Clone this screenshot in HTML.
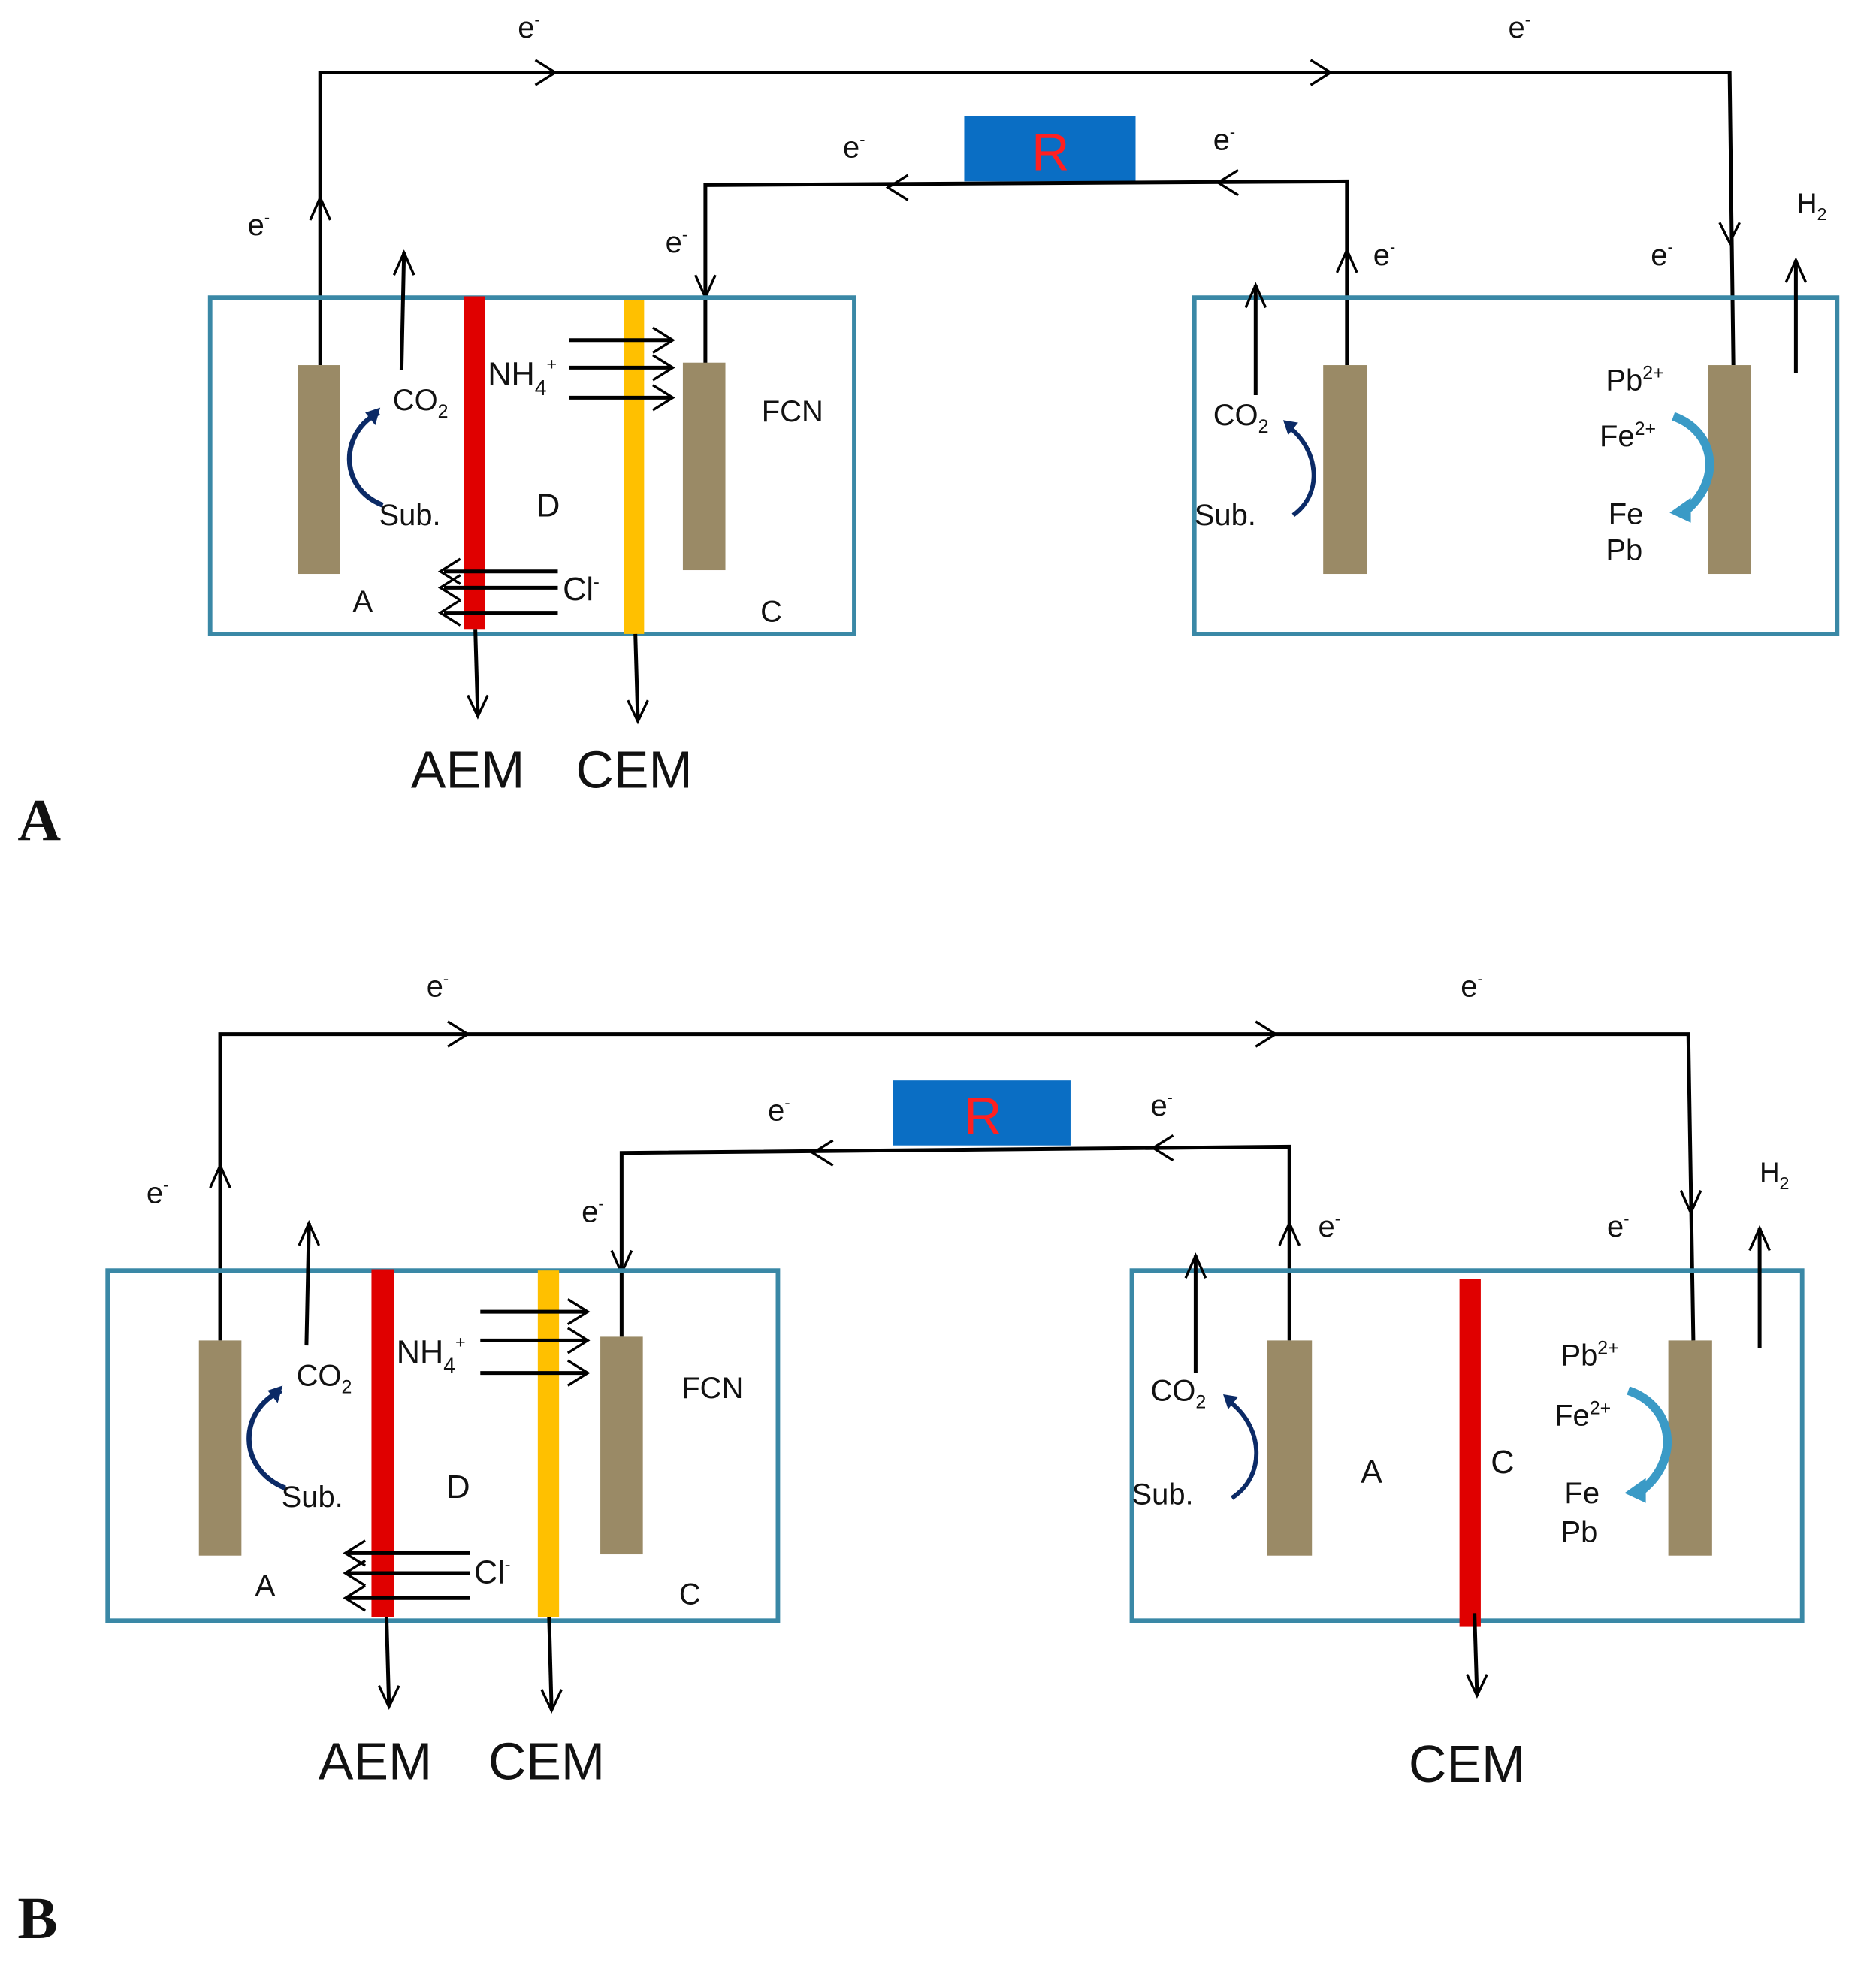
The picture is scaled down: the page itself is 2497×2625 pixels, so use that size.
<!DOCTYPE html>
<html><head><meta charset="utf-8"><style>
html,body{margin:0;padding:0;background:#fff}
svg{display:block}
text{font-family:"Liberation Sans",sans-serif;fill:#111}
.w{stroke:#000;stroke-width:3;fill:none}
.t{stroke:#000;stroke-width:2;fill:none}
.box{stroke:#3a88a6;stroke-width:3.5;fill:none}
.el{fill:#9a8a66}
</style></head><body>
<svg width="2497" height="2625" viewBox="0 0 1500 1577" xmlns="http://www.w3.org/2000/svg">
<!-- ===== Panel A ===== -->
<polyline class="w" points="256,292 256,58 1383,58 1386,292"/>
<polyline class="t" points="248,176 256,158 264,176"/>
<polyline class="t" points="428,48 444,58 428,68"/>
<polyline class="t" points="1048,48 1064,58 1048,68"/>
<polyline class="t" points="1375,178 1383,194 1391,178"/>
<text x="414" y="30" font-size="24">e<tspan font-size="13" dy="-10">-</tspan></text>
<text x="1206" y="30" font-size="24">e<tspan font-size="13" dy="-10">-</tspan></text>
<text x="198" y="188" font-size="24">e<tspan font-size="13" dy="-10">-</tspan></text>
<rect x="771" y="93" width="137" height="52" fill="#0a6ec4"/>
<text x="840" y="136" font-size="42" text-anchor="middle" style="fill:#ff2020">R</text>
<polyline class="w" points="564,292 564,148 1077,145 1077,292"/>
<polyline class="t" points="726,140 710,150 726,160"/>
<polyline class="t" points="990,136 974,146 990,156"/>
<polyline class="t" points="556,220 564,238 572,220"/>
<polyline class="t" points="1069,218 1077,200 1085,218"/>
<text x="674" y="126" font-size="24">e<tspan font-size="13" dy="-10">-</tspan></text>
<text x="970" y="120" font-size="24">e<tspan font-size="13" dy="-10">-</tspan></text>
<text x="532" y="202" font-size="24">e<tspan font-size="13" dy="-10">-</tspan></text>
<text x="1098" y="212" font-size="24">e<tspan font-size="13" dy="-10">-</tspan></text>
<text x="1320" y="212" font-size="24">e<tspan font-size="13" dy="-10">-</tspan></text>
<text x="1437" y="170" font-size="22">H<tspan font-size="14" dy="6">2</tspan></text>
<!-- left box A -->
<rect class="box" x="168" y="238" width="515" height="269"/>
<rect class="el" x="238" y="292" width="34" height="167"/>
<rect class="el" x="546" y="290" width="34" height="166"/>
<rect x="371" y="237" width="17" height="266" fill="#e00000"/>
<rect x="499" y="240" width="16" height="267" fill="#ffc000"/>
<line class="w" x1="321" y1="296" x2="323" y2="202"/>
<polyline class="t" points="315,220 323,202 331,220"/>
<polyline class="w" points="455,272 537,272"/><polyline class="t" points="522,262 538,272 522,282"/>
<polyline class="w" points="455,294 537,294"/><polyline class="t" points="522,284 538,294 522,304"/>
<polyline class="w" points="455,318 537,318"/><polyline class="t" points="522,308 538,318 522,328"/>
<polyline class="w" points="355,457 446,457"/><polyline class="t" points="368,447 352,457 368,467"/>
<polyline class="w" points="355,470 446,470"/><polyline class="t" points="368,460 352,470 368,480"/>
<polyline class="w" points="355,490 446,490"/><polyline class="t" points="368,480 352,490 368,500"/>
<line class="w" x1="380" y1="503" x2="382" y2="572"/><polyline class="t" points="374,556 382,573 390,556"/>
<line class="w" x1="508" y1="507" x2="510" y2="576"/><polyline class="t" points="502,560 510,577 518,560"/>
<path d="M303,330 C272,345 270,390 306,404" stroke="#0b2a66" stroke-width="4" fill="none"/>
<polygon points="304,326 292,330 300,340" fill="#0b2a66"/>
<text x="314" y="328" font-size="24">CO<tspan font-size="15" dy="6">2</tspan></text>
<text x="303" y="420" font-size="24">Sub.</text>
<text x="390" y="308" font-size="26">NH<tspan font-size="17" dy="8">4</tspan><tspan font-size="14" dy="-20">+</tspan></text>
<text x="429" y="413" font-size="26">D</text>
<text x="609" y="337" font-size="24">FCN</text>
<text x="450" y="480" font-size="26">Cl<tspan font-size="14" dy="-10">-</tspan></text>
<text x="282" y="489" font-size="24">A</text>
<text x="608" y="497" font-size="24">C</text>
<text x="374" y="630" font-size="42" text-anchor="middle">AEM</text>
<text x="507" y="630" font-size="42" text-anchor="middle">CEM</text>
<text x="14" y="672" font-size="48" font-weight="bold" style="font-family:'Liberation Serif',serif">A</text>
<!-- right box A -->
<rect class="box" x="955" y="238" width="514" height="269"/>
<rect class="el" x="1058" y="292" width="35" height="167"/>
<rect class="el" x="1366" y="292" width="34" height="167"/>
<line class="w" x1="1004" y1="316" x2="1004" y2="228"/><polyline class="t" points="996,246 1004,228 1012,246"/>
<line class="w" x1="1436" y1="298" x2="1436" y2="208"/><polyline class="t" points="1428,226 1436,208 1444,226"/>
<path d="M1030,341 C1055,360 1058,395 1034,412" stroke="#0b2a66" stroke-width="3.5" fill="none"/>
<polygon points="1026,336 1038,338 1030,348" fill="#0b2a66"/>
<text x="970" y="340" font-size="24">CO<tspan font-size="15" dy="6">2</tspan></text>
<text x="955" y="420" font-size="24">Sub.</text>
<path d="M1338,333 C1372,345 1378,385 1346,410" stroke="#3a9ac6" stroke-width="7" fill="none"/>
<polygon points="1335,410 1352,398 1352,418" fill="#3a9ac6"/>
<text x="1284" y="312" font-size="24">Pb<tspan font-size="15" dy="-9">2+</tspan></text>
<text x="1279" y="357" font-size="24">Fe<tspan font-size="15" dy="-9">2+</tspan></text>
<text x="1286" y="419" font-size="24">Fe</text>
<text x="1284" y="448" font-size="24">Pb</text>

<!-- ===== Panel B ===== -->
<polyline class="w" points="176,1072 176,827 1350,827 1354,1072"/>
<polyline class="t" points="168,950 176,932 184,950"/>
<polyline class="t" points="358,817 374,827 358,837"/>
<polyline class="t" points="1004,817 1020,827 1004,837"/>
<polyline class="t" points="1344,952 1352,970 1360,952"/>
<text x="341" y="797" font-size="24">e<tspan font-size="13" dy="-10">-</tspan></text>
<text x="1168" y="797" font-size="24">e<tspan font-size="13" dy="-10">-</tspan></text>
<text x="117" y="962" font-size="24">e<tspan font-size="13" dy="-10">-</tspan></text>
<rect x="714" y="864" width="142" height="52" fill="#0a6ec4"/>
<text x="786" y="907" font-size="42" text-anchor="middle" style="fill:#ff2020">R</text>
<polyline class="w" points="497,1069 497,922 1031,917 1031,1072"/>
<polyline class="t" points="666,912 650,922 666,932"/>
<polyline class="t" points="938,908 922,918 938,928"/>
<polyline class="t" points="489,1000 497,1018 505,1000"/>
<polyline class="t" points="1023,996 1031,978 1039,996"/>
<text x="614" y="896" font-size="24">e<tspan font-size="13" dy="-10">-</tspan></text>
<text x="920" y="892" font-size="24">e<tspan font-size="13" dy="-10">-</tspan></text>
<text x="465" y="977" font-size="24">e<tspan font-size="13" dy="-10">-</tspan></text>
<text x="1054" y="989" font-size="24">e<tspan font-size="13" dy="-10">-</tspan></text>
<text x="1285" y="989" font-size="24">e<tspan font-size="13" dy="-10">-</tspan></text>
<text x="1407" y="945" font-size="22">H<tspan font-size="14" dy="6">2</tspan></text>
<!-- left box B -->
<rect class="box" x="86" y="1016" width="536" height="280"/>
<rect class="el" x="159" y="1072" width="34" height="172"/>
<rect class="el" x="480" y="1069" width="34" height="174"/>
<rect x="297" y="1015" width="18" height="278" fill="#e00000"/>
<rect x="430" y="1016" width="17" height="277" fill="#ffc000"/>
<line class="w" x1="245" y1="1076" x2="247" y2="978"/><polyline class="t" points="239,996 247,978 255,996"/>
<polyline class="w" points="384,1049 469,1049"/><polyline class="t" points="454,1039 470,1049 454,1059"/>
<polyline class="w" points="384,1072 469,1072"/><polyline class="t" points="454,1062 470,1072 454,1082"/>
<polyline class="w" points="384,1098 469,1098"/><polyline class="t" points="454,1088 470,1098 454,1108"/>
<polyline class="w" points="278,1242 376,1242"/><polyline class="t" points="292,1232 276,1242 292,1252"/>
<polyline class="w" points="278,1258 376,1258"/><polyline class="t" points="292,1248 276,1258 292,1268"/>
<polyline class="w" points="278,1278 376,1278"/><polyline class="t" points="292,1268 276,1278 292,1288"/>
<line class="w" x1="309" y1="1293" x2="311" y2="1364"/><polyline class="t" points="303,1348 311,1365 319,1348"/>
<line class="w" x1="439" y1="1293" x2="441" y2="1367"/><polyline class="t" points="433,1351 441,1368 449,1351"/>
<path d="M225,1112 C190,1128 190,1175 228,1190" stroke="#0b2a66" stroke-width="4" fill="none"/>
<polygon points="226,1108 214,1112 222,1122" fill="#0b2a66"/>
<text x="237" y="1108" font-size="24">CO<tspan font-size="15" dy="6">2</tspan></text>
<text x="225" y="1205" font-size="24">Sub.</text>
<text x="317" y="1090" font-size="26">NH<tspan font-size="17" dy="8">4</tspan><tspan font-size="14" dy="-20">+</tspan></text>
<text x="357" y="1198" font-size="26">D</text>
<text x="545" y="1118" font-size="24">FCN</text>
<text x="379" y="1266" font-size="26">Cl<tspan font-size="14" dy="-10">-</tspan></text>
<text x="204" y="1276" font-size="24">A</text>
<text x="543" y="1283" font-size="24">C</text>
<text x="300" y="1423" font-size="42" text-anchor="middle">AEM</text>
<text x="437" y="1423" font-size="42" text-anchor="middle">CEM</text>
<text x="14" y="1550" font-size="48" font-weight="bold" style="font-family:'Liberation Serif',serif">B</text>
<!-- right box B -->
<rect class="box" x="905" y="1016" width="536" height="280"/>
<rect class="el" x="1013" y="1072" width="36" height="172"/>
<rect class="el" x="1334" y="1072" width="35" height="172"/>
<rect x="1167" y="1023" width="17" height="278" fill="#e00000"/>
<line class="w" x1="1179" y1="1290" x2="1181" y2="1355"/><polyline class="t" points="1173,1339 1181,1356 1189,1339"/>
<line class="w" x1="956" y1="1098" x2="956" y2="1004"/><polyline class="t" points="948,1022 956,1004 964,1022"/>
<line class="w" x1="1407" y1="1078" x2="1407" y2="982"/><polyline class="t" points="1399,1000 1407,982 1415,1000"/>
<path d="M982,1120 C1010,1140 1013,1180 985,1198" stroke="#0b2a66" stroke-width="3.5" fill="none"/>
<polygon points="978,1115 990,1117 982,1127" fill="#0b2a66"/>
<text x="920" y="1120" font-size="24">CO<tspan font-size="15" dy="6">2</tspan></text>
<text x="905" y="1203" font-size="24">Sub.</text>
<text x="1088" y="1186" font-size="26">A</text>
<text x="1192" y="1178" font-size="26">C</text>
<path d="M1302,1112 C1340,1125 1344,1170 1310,1194" stroke="#3a9ac6" stroke-width="7" fill="none"/>
<polygon points="1299,1194 1316,1182 1316,1202" fill="#3a9ac6"/>
<text x="1248" y="1092" font-size="24">Pb<tspan font-size="15" dy="-9">2+</tspan></text>
<text x="1243" y="1140" font-size="24">Fe<tspan font-size="15" dy="-9">2+</tspan></text>
<text x="1251" y="1202" font-size="24">Fe</text>
<text x="1248" y="1233" font-size="24">Pb</text>
<text x="1173" y="1425" font-size="42" text-anchor="middle">CEM</text>
</svg>
</body></html>
